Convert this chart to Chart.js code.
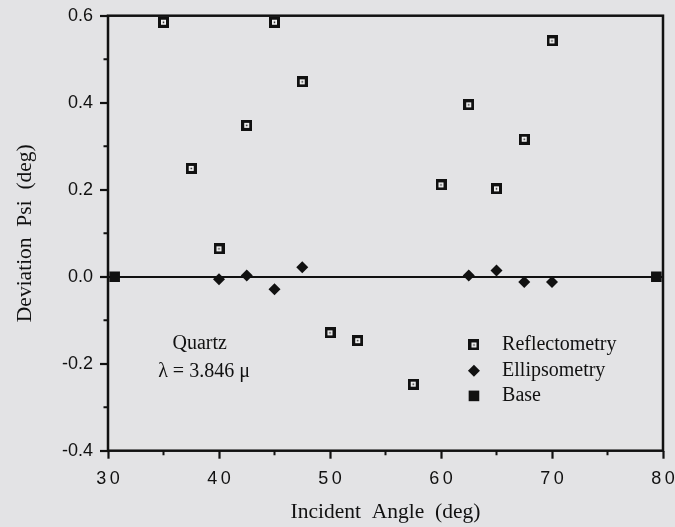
<!DOCTYPE html>
<html>
<head>
<meta charset="utf-8">
<title>Deviation Psi vs Incident Angle</title>
<script src="https://cdn.jsdelivr.net/npm/chart.js@4.4.0/dist/chart.umd.min.js"></script>
<style>
    html, body { margin: 0; padding: 0; background: #e3e3e5; }
    #wrap { width: 675px; height: 527px; position: relative; }
</style>
</head>
<body>
<div id="wrap"><canvas id="psiChart"></canvas></div>
<script>
// ============================================
// DATA
// ============================================
const reflAngles = [35, 37.5, 40, 42.5, 45, 47.5, 50, 52.5, 57.5, 60, 62.5, 65, 67.5, 70];
const reflPsi = [0.585, 0.249, 0.064, 0.348, 0.585, 0.448, -0.129, -0.147, -0.247, 0.211, 0.395, 0.202, 0.316, 0.542];

const ellipAngles = [40, 42.5, 45, 47.5, 62.5, 65, 67.5, 70];
const ellipPsi = [-0.006, 0.003, -0.029, 0.022, 0.003, 0.014, -0.012, -0.012];

const baseAngles = [30.6, 79.4];
const basePsi = [0, 0];

const xTicks = [30, 40, 50, 60, 70, 80];
const xMinorTicks = [35, 45, 55, 65, 75];
const yTicks = [-0.4, -0.2, 0.0, 0.2, 0.4, 0.6];
const yMinorTicks = [-0.3, -0.1, 0.1, 0.3, 0.5];

const seriesNames = ['Reflectometry', 'Ellipsometry', 'Base'];
const noteLines = ['Quartz', 'λ = 3.846 μ'];

// ============================================
// STYLE
// ============================================
const INK = '#111';
const SERIF = '"Liberation Serif", "DejaVu Serif", serif';
const SANS = '"Liberation Sans", Arial, sans-serif';

// open square with a dot in the middle
function makeReflMarker() {
    const c = document.createElement('canvas');
    c.width = 11;
    c.height = 11;
    const g = c.getContext('2d');
    g.fillStyle = INK;
    g.fillRect(0, 0, 11, 11);
    g.fillStyle = '#f4f4f4';
    g.fillRect(3, 3, 5, 5);
    g.fillStyle = INK;
    g.fillRect(4.75, 4.75, 1.5, 1.5);
    return c;
}

const toPoints = (xs, ys) => xs.map((x, i) => ({ x: x, y: ys[i] }));

// ============================================
// PLUGINS
// ============================================
// box round the plot plus the short minor ticks
const framePlugin = {
    id: 'frame',
    beforeDatasetsDraw(chart) {
        const { ctx, chartArea: a, scales } = chart;
        ctx.save();
        ctx.strokeStyle = INK;
        ctx.lineWidth = 2.5;
        ctx.strokeRect(a.left, a.top, a.right - a.left, a.bottom - a.top);

        ctx.lineWidth = 2;
        ctx.beginPath();
        xMinorTicks.forEach(v => {
            const px = scales.x.getPixelForValue(v);
            ctx.moveTo(px, a.bottom);
            ctx.lineTo(px, a.bottom + 4.5);
        });
        yMinorTicks.forEach(v => {
            const py = scales.y.getPixelForValue(v);
            ctx.moveTo(a.left, py);
            ctx.lineTo(a.left - 4.5, py);
        });
        ctx.stroke();
        ctx.restore();
    }
};

// sample note and the key, placed in data units
const notesPlugin = {
    id: 'notes',
    afterDatasetsDraw(chart) {
        const { ctx, scales } = chart;
        const sx = v => scales.x.getPixelForValue(v);
        const sy = v => scales.y.getPixelForValue(v);

        ctx.save();
        ctx.fillStyle = INK;
        ctx.font = '20px ' + SERIF;
        ctx.textBaseline = 'middle';
        ctx.textAlign = 'center';
        ctx.fillText(noteLines[0], sx(38.26), sy(-0.153));
        ctx.fillText(noteLines[1], sx(38.65), sy(-0.218));

        const keyRows = [-0.157, -0.216, -0.274];
        ctx.textAlign = 'left';
        chart.data.datasets.forEach((ds, i) => {
            const y = sy(keyRows[i]);
            ctx.fillStyle = INK;
            Chart.helpers.drawPoint(ctx, {
                pointStyle: ds.pointStyle,
                radius: ds.pointRadius,
                rotation: 0,
                borderWidth: 0
            }, sx(62.97), y);
            ctx.fillText(ds.label, sx(65.5), y);
        });
        ctx.restore();
    }
};

// ============================================
// CHART
// ============================================
const reflMarker = makeReflMarker();

new Chart(document.getElementById('psiChart'), {
    type: 'scatter',
    data: {
        datasets: [
            {
                label: seriesNames[0],
                data: toPoints(reflAngles, reflPsi),
                pointStyle: reflMarker,
                pointRadius: 6,
                backgroundColor: INK,
                borderWidth: 0
            },
            {
                label: seriesNames[1],
                data: toPoints(ellipAngles, ellipPsi),
                pointStyle: 'rectRot',
                pointRadius: 6,
                backgroundColor: INK,
                borderWidth: 0
            },
            {
                label: seriesNames[2],
                data: toPoints(baseAngles, basePsi),
                pointStyle: 'rect',
                pointRadius: 7.5,
                backgroundColor: INK,
                borderWidth: 0
            }
        ]
    },
    options: {
        responsive: true,
        maintainAspectRatio: false,
        animation: false,
        layout: { padding: { top: 15.7, right: 12, bottom: 0, left: 0 } },
        plugins: {
            legend: { display: false },
            tooltip: { enabled: false }
        },
        scales: {
            x: {
                type: 'linear',
                min: 30,
                max: 80,
                afterBuildTicks: s => { s.ticks = xTicks.map(v => ({ value: v })); },
                afterFit: s => {
                    s.height = 76.3;
                    s.paddingLeft = 0;
                    s.paddingRight = 0;
                },
                border: { display: false },
                grid: {
                    drawOnChartArea: false,
                    drawTicks: true,
                    tickLength: 8,
                    tickWidth: 2.2,
                    tickColor: INK
                },
                ticks: {
                    padding: 10,
                    color: INK,
                    font: { family: SANS, size: 18 },
                    callback: v => String(v).split('').join('\u2009')
                },
                title: {
                    display: true,
                    text: 'Incident  Angle  (deg)',
                    color: INK,
                    font: { family: SERIF, size: 21.5 },
                    padding: { top: 0, bottom: 1.5 }
                }
            },
            y: {
                type: 'linear',
                min: -0.4,
                max: 0.6,
                afterBuildTicks: s => { s.ticks = yTicks.map(v => ({ value: v })); },
                afterFit: s => {
                    s.width = 108;
                    s.paddingTop = 0;
                    s.paddingBottom = 0;
                },
                border: { display: false },
                grid: {
                    drawOnChartArea: true,
                    color: c => (c.tick && c.tick.value === 0) ? INK : 'rgba(0,0,0,0)',
                    lineWidth: 2,
                    drawTicks: true,
                    tickLength: 8,
                    tickWidth: 2.2,
                    tickColor: INK
                },
                ticks: {
                    padding: 7,
                    color: INK,
                    font: { family: SANS, size: 18 },
                    callback: v => v.toFixed(1)
                },
                title: {
                    display: true,
                    text: 'Deviation  Psi  (deg)',
                    color: INK,
                    font: { family: SERIF, size: 21.5 },
                    padding: { top: 12, bottom: 0 }
                }
            }
        }
    },
    plugins: [framePlugin, notesPlugin]
});
</script>
</body>
</html>
